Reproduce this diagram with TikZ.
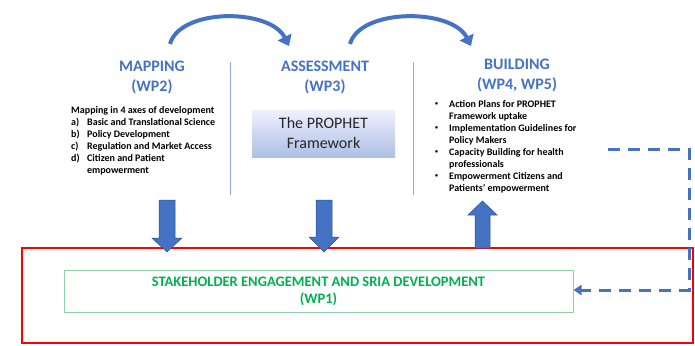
\documentclass[tikz,border=0pt]{standalone}
\usepackage{fontspec}
\setmainfont{Carlito}
\usetikzlibrary{arrows.meta}
\definecolor{wpblue}{HTML}{4472C4}
\definecolor{wpdark}{HTML}{2F528F}
\definecolor{seplin}{HTML}{8FAADC}
\definecolor{wpgreen}{HTML}{00B050}
\definecolor{boxgreen}{HTML}{92D2AA}
\definecolor{txtgray}{HTML}{262626}
\newcommand{\smallbul}{\makebox[16pt][l]{\hspace*{2pt}\raisebox{1.5pt}{\fontsize{6}{6}\selectfont\textbullet}}}
\tikzset{
  heading/.style={font=\fontsize{16}{20}\selectfont\bfseries, text=wpblue, align=center, inner sep=0pt},
  listtext/.style={font=\fontsize{10}{12}\selectfont\bfseries, align=left, inner sep=0pt, anchor=north west},
  sepline/.style={draw=seplin, line width=1pt},
  blockarrow/.style={fill=wpblue, draw=wpdark, line width=0.5pt},
  curvearrow/.style={draw=wpblue, line width=4pt, -{Triangle[length=10pt,width=15pt]}},
  dasharrow/.style={draw=wpblue, line width=3pt, dash pattern=on 12pt off 8pt, -{Triangle[length=8pt,width=10pt]}},
}
\begin{document}
\begin{tikzpicture}[x=1pt,y=-1pt]
\useasboundingbox (0,0) rectangle (695,345);
% curved arrows
\coordinate (c1s) at (170,44);
\coordinate (c1e) at (289,46);
\coordinate (c2s) at (350,44);
\coordinate (c2e) at (471,46);
\draw[curvearrow] (c1s) .. controls (180,8) and (270,8) .. (c1e);
\draw[curvearrow] (c2s) .. controls (360,8) and (452,8) .. (c2e);
% headings
\node[heading] (map) at (152,77) {MAPPING\\(WP2)};
\node[heading] (ass) at (325,77) {ASSESSMENT\\(WP3)};
\node[heading] (bld) at (517,75) {BUILDING\\(WP4, WP5)};
% separators
\coordinate (s1t) at (230,62); \coordinate (s1b) at (230,195);
\coordinate (s2t) at (413,62); \coordinate (s2b) at (413,195);
\draw[sepline] (s1t) -- (s1b);
\draw[sepline] (s2t) -- (s2b);
% mapping list
\node[listtext] (maplist) at (71,106) {Mapping in 4 axes of development\\
\makebox[16pt][l]{a)}Basic and Translational Science\\
\makebox[16pt][l]{b)}Policy Development\\
\makebox[16pt][l]{c)}Regulation and Market Access\\
\makebox[16pt][l]{d)}Citizen and Patient\\
\hspace*{16pt}empowerment};
% PROPHET framework box
\shade[top color=blue!6!white, bottom color={rgb,255:red,172;green,192;blue,228}] (252,110) rectangle (395,157);
\node[font=\fontsize{16}{20}\selectfont, text=txtgray, align=center, inner sep=0pt] (fw) at (323.5,133) {The PROPHET\\Framework};
% building list
\node[listtext] (bldlist) at (433,100) {\smallbul Action Plans for PROPHET\\
\hspace*{16pt}Framework uptake\\
\smallbul Implementation Guidelines for\\
\hspace*{16pt}Policy Makers\\
\smallbul Capacity Building for health\\
\hspace*{16pt}professionals\\
\smallbul Empowerment Citizens and\\
\hspace*{16pt}Patients’ empowerment};
% red frame
\draw[red, line width=2.5pt] (22,248) rectangle (693,343);
% green box
\node[draw=boxgreen, line width=1pt, minimum width=509pt, minimum height=42pt, inner sep=0pt,
  font=\fontsize{14.5}{17}\selectfont\bfseries, text=wpgreen, align=center] (sria) at (318.5,291)
  {STAKEHOLDER ENGAGEMENT AND SRIA DEVELOPMENT\\(WP1)};
% block arrows
\draw[blockarrow] (159,200) -- (175,200) -- (175,238) -- (182,238) -- (167,252) -- (152,238) -- (159,238) -- cycle;
\draw[blockarrow] (316,200) -- (332,200) -- (332,237) -- (339,237) -- (324,252) -- (309,237) -- (316,237) -- cycle;
\draw[blockarrow] (475,248) -- (490,248) -- (490,215) -- (497,215) -- (482.5,201) -- (468,215) -- (475,215) -- cycle;
% dashed feedback
\coordinate (d1) at (608,149);
\coordinate (d2) at (689,149);
\coordinate (d3) at (689,290);
\draw[dasharrow] (d1) -- (d2) -- (d3) -- (sria.east |- d3);
\end{tikzpicture}
\end{document}
